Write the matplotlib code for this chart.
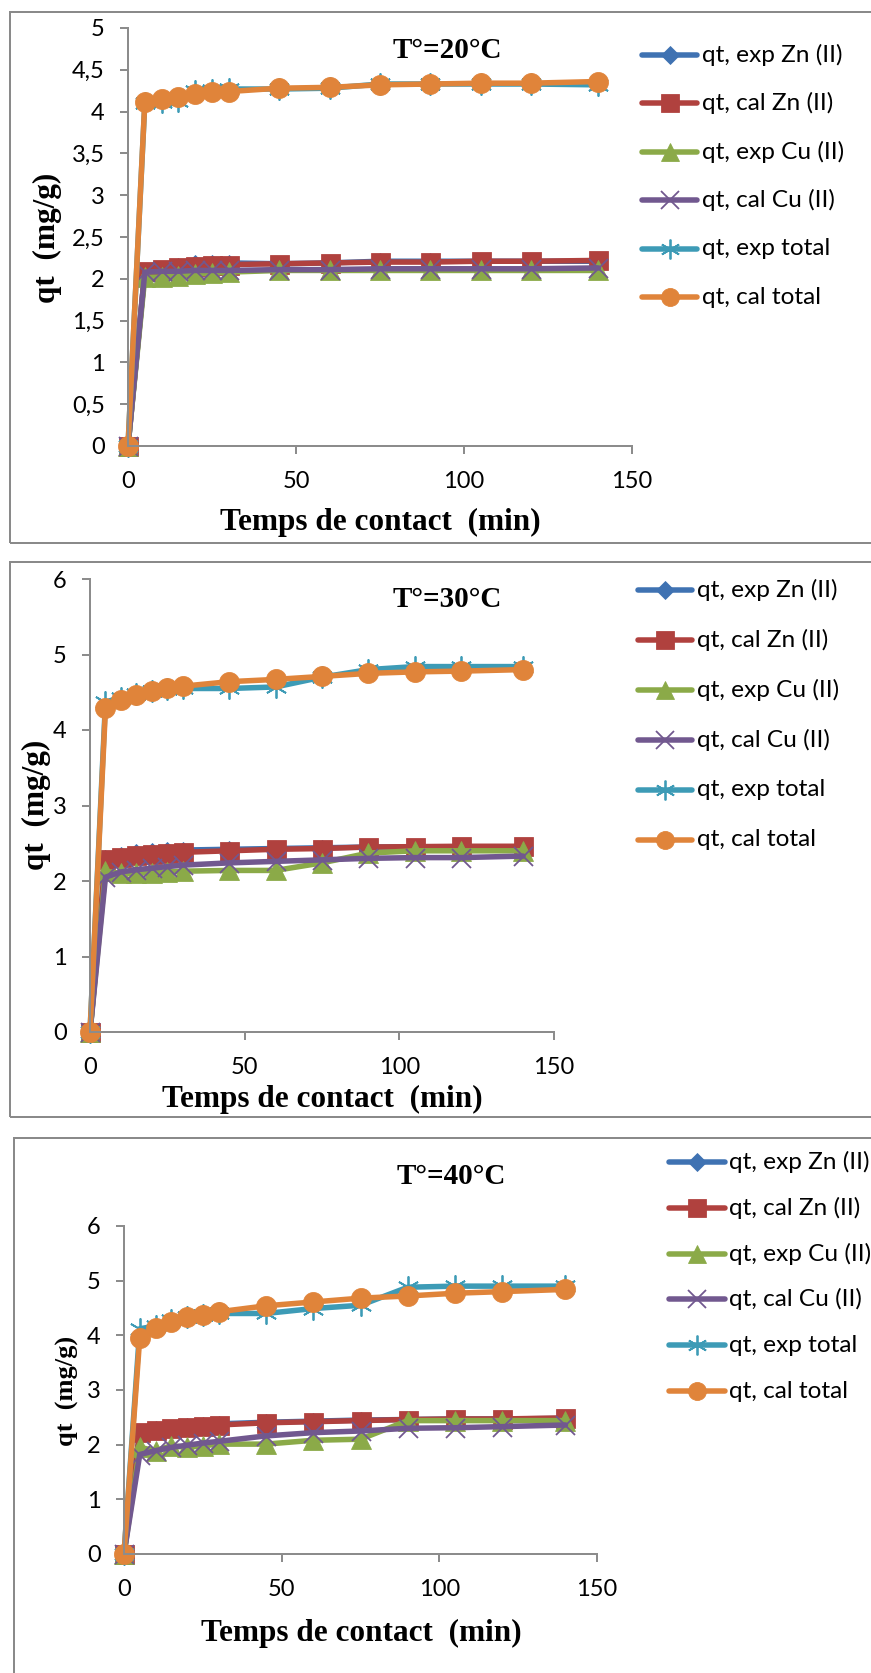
import matplotlib
matplotlib.use("Agg")
import matplotlib.pyplot as plt
from matplotlib.lines import Line2D
from matplotlib.patches import Rectangle
from matplotlib.ticker import FuncFormatter, MultipleLocator

# ---------------------------------------------------------------- data
time_min = [0, 5, 10, 15, 20, 25, 30, 45, 60, 75, 90, 105, 120, 140]

series_labels = ["qt, exp Zn (II)", "qt, cal Zn (II)", "qt, exp Cu (II)",
                 "qt, cal Cu (II)", "qt, exp total", "qt, cal total"]

temperature_titles = ["T°=20°C", "T°=30°C", "T°=40°C"]

# T = 20 °C
qt_exp_zn_20 = [0, 2.08, 2.12, 2.15, 2.19, 2.19, 2.19, 2.18, 2.19, 2.21, 2.21, 2.21, 2.21, 2.21]
qt_cal_zn_20 = [0, 2.09, 2.12, 2.14, 2.15, 2.16, 2.17, 2.18, 2.19, 2.20, 2.20, 2.21, 2.21, 2.22]
qt_exp_cu_20 = [0, 2.02, 2.02, 2.03, 2.06, 2.07, 2.08, 2.10, 2.10, 2.10, 2.10, 2.10, 2.10, 2.10]
qt_cal_cu_20 = [0, 2.08, 2.09, 2.09, 2.10, 2.10, 2.10, 2.11, 2.11, 2.12, 2.12, 2.12, 2.12, 2.13]
qt_exp_tot_20 = [0, 4.10, 4.12, 4.13, 4.25, 4.26, 4.27, 4.27, 4.28, 4.33, 4.33, 4.33, 4.33, 4.32]
qt_cal_tot_20 = [0, 4.11, 4.15, 4.18, 4.21, 4.23, 4.24, 4.28, 4.29, 4.32, 4.33, 4.34, 4.34, 4.36]

# T = 30 °C
qt_exp_zn_30 = [0, 2.31, 2.35, 2.38, 2.40, 2.41, 2.41, 2.42, 2.43, 2.44, 2.45, 2.45, 2.45, 2.45]
qt_cal_zn_30 = [0, 2.29, 2.32, 2.345, 2.36, 2.37, 2.38, 2.40, 2.42, 2.43, 2.45, 2.455, 2.46, 2.46]
qt_exp_cu_30 = [0, 2.13, 2.10, 2.10, 2.11, 2.12, 2.13, 2.14, 2.14, 2.24, 2.37, 2.40, 2.40, 2.40]
qt_cal_cu_30 = [0, 2.05, 2.12, 2.15, 2.17, 2.19, 2.21, 2.24, 2.26, 2.28, 2.30, 2.31, 2.31, 2.33]
qt_exp_tot_30 = [0, 4.37, 4.43, 4.48, 4.52, 4.54, 4.55, 4.55, 4.57, 4.70, 4.80, 4.84, 4.84, 4.84]
qt_cal_tot_30 = [0, 4.29, 4.40, 4.46, 4.51, 4.55, 4.58, 4.64, 4.67, 4.71, 4.75, 4.77, 4.78, 4.80]

# T = 40 °C
qt_exp_zn_40 = [0, 2.24, 2.28, 2.31, 2.34, 2.36, 2.38, 2.41, 2.43, 2.45, 2.46, 2.47, 2.47, 2.48]
qt_cal_zn_40 = [0, 2.23, 2.27, 2.30, 2.32, 2.34, 2.36, 2.40, 2.42, 2.44, 2.46, 2.47, 2.47, 2.49]
qt_exp_cu_40 = [0, 1.95, 1.89, 1.98, 1.95, 1.98, 2.01, 2.01, 2.08, 2.10, 2.44, 2.44, 2.44, 2.44]
qt_cal_cu_40 = [0, 1.82, 1.89, 1.95, 1.99, 2.03, 2.06, 2.16, 2.22, 2.25, 2.30, 2.31, 2.33, 2.36]
qt_exp_tot_40 = [0, 4.12, 4.17, 4.28, 4.34, 4.37, 4.40, 4.40, 4.49, 4.55, 4.88, 4.90, 4.90, 4.90]
qt_cal_tot_40 = [0, 3.96, 4.14, 4.25, 4.33, 4.38, 4.43, 4.54, 4.61, 4.68, 4.72, 4.77, 4.80, 4.84]

panel_series = [
    [qt_exp_zn_20, qt_cal_zn_20, qt_exp_cu_20, qt_cal_cu_20, qt_exp_tot_20, qt_cal_tot_20],
    [qt_exp_zn_30, qt_cal_zn_30, qt_exp_cu_30, qt_cal_cu_30, qt_exp_tot_30, qt_cal_tot_30],
    [qt_exp_zn_40, qt_cal_zn_40, qt_exp_cu_40, qt_cal_cu_40, qt_exp_tot_40, qt_cal_tot_40],
]

# ---------------------------------------------------------------- style
W, H = 871, 1673
DPI = 100
PX = 72.0 / DPI  # points per pixel

colors = ["#3F72B2", "#B0413E", "#8BAA48", "#71588F", "#3D9BB6", "#E0843A"]
markers = ["D", "s", "^", "x", (6, 2, 0), "o"]
marker_px = [12, 19, 20, 19, 22, 20]
line_px = 5.5

tick_font = "Lato"
serif_font = "Liberation Serif"
axis_grey = "#8C8C8C"
tick_size = 17
legend_size = 17.6

# layout of each panel, in pixels: axes box, y range, text anchors, legend
panels = [
    dict(ax=(128, 28, 632, 446), ymax=5, ystep=0.5,
         title=(447, 51), xlabel=(380, 522), ylabel=(47, 238), ylabel_size=22.5,
         leg=(642, 697, 702, 55, 48.4), frame=(10, 12, 900, 543)),
    dict(ax=(90, 579, 554, 1032), ymax=6, ystep=1,
         title=(447, 600), xlabel=(322, 1099), ylabel=(36, 805), ylabel_size=22.5,
         leg=(638, 692, 697, 590, 50.0), frame=(10, 562, 900, 1117)),
    dict(ax=(124, 1226, 597, 1554), ymax=6, ystep=1,
         title=(451, 1176), xlabel=(361, 1633), ylabel=(67, 1391), ylabel_size=19,
         leg=(669, 725, 729, 1162, 45.8), frame=(14, 1138, 900, 1700)),
]


def fx(x):
    return x / W


def fy(y):
    return 1 - y / H


def comma_fmt(v, _pos):
    s = f"{v:g}"
    return s.replace(".", ",")


fig = plt.figure(figsize=(W / DPI, H / DPI), dpi=DPI)
fig.patch.set_facecolor("white")

for p, data, title in zip(panels, panel_series, temperature_titles):
    # outer frame of the chart area
    fl, ft, fr, fb = p["frame"]
    fig.add_artist(Rectangle((fx(fl), fy(fb)), fx(fr - fl), (fb - ft) / H,
                             transform=fig.transFigure, fill=False,
                             edgecolor="#8A8A8A", linewidth=2 * PX, zorder=0))

    l, t, r, b = p["ax"]
    ax = fig.add_axes([fx(l), fy(b), fx(r - l), (b - t) / H])
    ax.set_facecolor("none")

    handles = []
    for vals, c, m, ms, lab in zip(data, colors, markers, marker_px, series_labels):
        thin = m in ("x",) or isinstance(m, tuple)
        ln, = ax.plot(time_min, vals, color=c, linewidth=line_px * PX,
                      marker=m, markersize=ms * PX,
                      markerfacecolor=c, markeredgecolor=c,
                      markeredgewidth=(1.8 if thin else 0.8) * PX,
                      solid_joinstyle="round", solid_capstyle="round",
                      clip_on=False, label=lab)
        handles.append(ln)

    ax.set_xlim(0, 150)
    ax.set_ylim(0, p["ymax"])
    ax.xaxis.set_major_locator(MultipleLocator(50))
    ax.yaxis.set_major_locator(MultipleLocator(p["ystep"]))
    ax.yaxis.set_major_formatter(FuncFormatter(comma_fmt))

    for side in ("top", "right"):
        ax.spines[side].set_visible(False)
    for side in ("left", "bottom"):
        ax.spines[side].set_color(axis_grey)
        ax.spines[side].set_linewidth(2 * PX)
    ax.tick_params(axis="both", direction="out", length=8 * PX, width=2 * PX,
                   color=axis_grey, labelsize=tick_size, labelcolor="black")
    ax.tick_params(axis="x", pad=12)
    ax.tick_params(axis="y", pad=11)
    for lbl in ax.get_xticklabels() + ax.get_yticklabels():
        lbl.set_fontfamily(tick_font)

    # titles and axis labels
    fig.text(fx(p["title"][0]), fy(p["title"][1]), title, ha="center", va="center",
             fontfamily=serif_font, fontweight="bold", fontsize=21)
    fig.text(fx(p["xlabel"][0]), fy(p["xlabel"][1]), "Temps de contact  (min)",
             ha="center", va="center", fontfamily=serif_font, fontweight="bold",
             fontsize=22.5)
    fig.text(fx(p["ylabel"][0]), fy(p["ylabel"][1]), "qt  (mg/g)", rotation=90,
             ha="center", va="center", fontfamily=serif_font, fontweight="bold",
             fontsize=p["ylabel_size"])

    # legend entries: short line with a centred marker, then the label
    x1, x2, xt, y0, dy = p["leg"]
    for i, ln in enumerate(handles):
        yy = fy(y0 + i * dy)
        leg_ms = ln.get_markersize() * (1.1 if i == 0 else 0.9)
        fig.add_artist(Line2D([fx(x1), fx((x1 + x2) / 2), fx(x2)], [yy, yy, yy],
                              transform=fig.transFigure,
                              color=ln.get_color(), linewidth=ln.get_linewidth(),
                              marker=ln.get_marker(), markevery=[1],
                              markersize=leg_ms,
                              markerfacecolor=ln.get_markerfacecolor(),
                              markeredgecolor=ln.get_markeredgecolor(),
                              markeredgewidth=ln.get_markeredgewidth(),
                              solid_capstyle="round"))
        fig.text(fx(xt), yy, ln.get_label(), ha="left", va="center",
                 fontfamily=tick_font, fontsize=legend_size)

fig.savefig("out.png", dpi=DPI, facecolor="white")
